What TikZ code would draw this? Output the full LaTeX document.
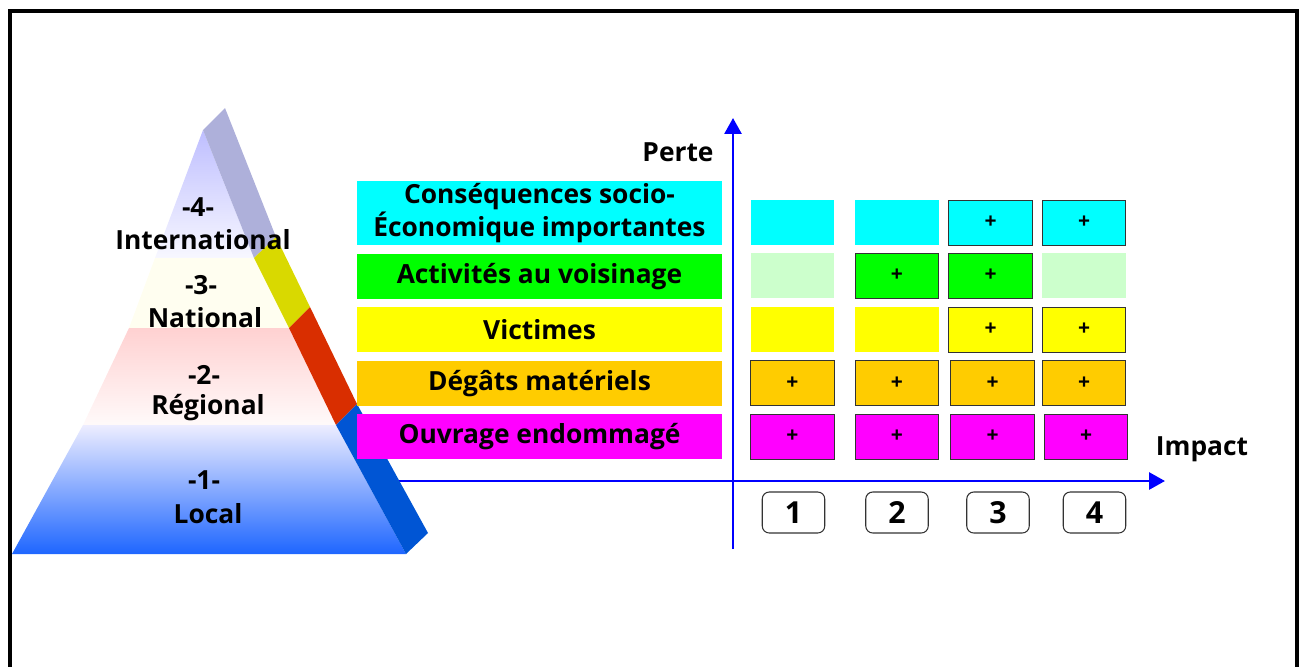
\documentclass[tikz,border=0pt]{standalone}
\usepackage{fontspec}
\setmainfont{Open Sans}
\usetikzlibrary{arrows.meta}
\definecolor{cyanc}{HTML}{00FFFF}
\definecolor{greenc}{HTML}{00FF00}
\definecolor{palegreen}{HTML}{CCFFCC}
\definecolor{yellowc}{HTML}{FFFF00}
\definecolor{orangec}{HTML}{FFCC00}
\definecolor{magentac}{HTML}{FF00FF}
\definecolor{axisblue}{HTML}{0000FF}
\definecolor{sidelav}{HTML}{AEB0DA}
\definecolor{sideyel}{HTML}{D9D900}
\definecolor{sidered}{HTML}{D92E00}
\definecolor{sideblue}{HTML}{0055D4}
\tikzset{
  catbar/.style={minimum width=7.3cm,minimum height=0.9cm,align=center,inner sep=0pt,font=\bfseries\fontsize{15}{17}\selectfont},
  cell/.style={minimum width=1.67cm,minimum height=0.9cm,inner sep=0pt,font=\bfseries\large},
  pluscell/.style={cell,draw=black!80,line width=0.5pt},
  numbox/.style={draw=black!80,line width=0.6pt,rounded corners=4pt,fill=white,minimum width=1.25cm,minimum height=0.82cm,inner sep=0pt,font=\bfseries\LARGE},
  lvl/.style={font=\bfseries\fontsize{15}{17}\selectfont,inner sep=0pt}
}
\begin{document}
\begin{tikzpicture}[x=0.02cm,y=-0.02cm]
\useasboundingbox (0,0) rectangle (1300,666);
% frame
\draw[line width=2.2pt] (10,680) -- (10,11) -- (1297,11) -- (1297,680);
% axes
\coordinate (xstart) at (398,481);
\coordinate (xend) at (1165,481);
\coordinate (ybot) at (733,549);
\coordinate (ytop) at (733,118);
\draw[axisblue,line width=1.6pt,-{Triangle[length=0.32cm,width=0.34cm]}] (xstart) -- (xend);
\draw[axisblue,line width=1.6pt,-{Triangle[length=0.32cm,width=0.34cm]}] (ybot) -- (ytop);
\node[font=\bfseries\fontsize{15}{17}\selectfont] (perte) at (678,152) {Perte};
\node[font=\bfseries\fontsize{15}{17}\selectfont] (impact) at (1202,449) {Impact};
% pyramid front face
\shade[top color=white!70!blue!85,bottom color=blue!3] (203,130) -- (254,258) -- (155,258) -- cycle;
\fill[yellow!6] (155,258) -- (254,258) -- (289,328) -- (129,328) -- cycle;
\shade[top color=red!18,bottom color=red!2] (129,328) -- (289,328) -- (336,425) -- (83,425) -- cycle;
\shade[top color=blue!7,bottom color={rgb,255:red,30;green,102;blue,255}] (83,425) -- (336,425) -- (406,554) -- (12,554) -- cycle;
% pyramid side face
\fill[sidelav] (203,130) -- (225,108) -- (276,237) -- (254,258) -- cycle;
\fill[sideyel] (254,258) -- (276,237) -- (310,307) -- (289,328) -- cycle;
\fill[sidered] (289,328) -- (310,307) -- (357,404) -- (336,425) -- cycle;
\fill[sideblue] (336,425) -- (357,404) -- (428,533) -- (406,554) -- cycle;
% levels
\node[lvl] (n4) at (198,207) {-4-};
\node[lvl] (intl) at (203,240) {International};
\node[lvl] (n3) at (201,285) {-3-};
\node[lvl] (natl) at (205,318) {National};
\node[lvl] (n2) at (204,375) {-2-};
\node[lvl] (regl) at (208,408) {Régional};
\node[lvl] (n1) at (204,480) {-1-};
\node[lvl] (locl) at (208,514) {Local};
% loss categories
\node[catbar,fill=cyanc,minimum height=1.28cm] (socio) at (539.5,213) {Conséquences socio-\\Économique importantes};
\node[catbar,fill=greenc] (activ) at (539.5,276.5) {Activités au voisinage};
\node[catbar,fill=yellowc] (victim) at (539.5,329.5) {Victimes};
\node[catbar,fill=orangec] (degats) at (539.5,383.5) {Dégâts matériels};
\node[catbar,fill=magentac] (ouvrage) at (539.5,436.5) {Ouvrage endommagé};
% grid
\node[cell,fill=cyanc] (c11) at (792.5,222.5) {};
\node[cell,fill=cyanc] (c12) at (897,222.5) {};
\node[pluscell,fill=cyanc] (c13) at (990.5,222.5) {+};
\node[pluscell,fill=cyanc] (c14) at (1084,222.5) {+};
\node[cell,fill=palegreen] (c21) at (792.5,275.5) {};
\node[pluscell,fill=greenc] (c22) at (897,275.5) {+};
\node[pluscell,fill=greenc] (c23) at (990.5,275.5) {+};
\node[cell,fill=palegreen] (c24) at (1084,275.5) {};
\node[cell,fill=yellowc] (c31) at (792.5,329.5) {};
\node[cell,fill=yellowc] (c32) at (897,329.5) {};
\node[pluscell,fill=yellowc] (c33) at (990.5,329.5) {+};
\node[pluscell,fill=yellowc] (c34) at (1084,329.5) {+};
\node[pluscell,fill=orangec] (c41) at (792.5,383) {+};
\node[pluscell,fill=orangec] (c42) at (897,383) {+};
\node[pluscell,fill=orangec] (c43) at (992.5,383) {+};
\node[pluscell,fill=orangec] (c44) at (1084,383) {+};
\node[pluscell,fill=magentac] (c51) at (792.5,436.5) {+};
\node[pluscell,fill=magentac] (c52) at (897,436.5) {+};
\node[pluscell,fill=magentac] (c53) at (992.5,436.5) {+};
\node[pluscell,fill=magentac] (c54) at (1086,436.5) {+};
% impact levels
\node[numbox] (i1) at (793.5,512.5) {1};
\node[numbox] (i2) at (897,512.5) {2};
\node[numbox] (i3) at (998,512.5) {3};
\node[numbox] (i4) at (1094.5,512.5) {4};
\end{tikzpicture}
\end{document}
